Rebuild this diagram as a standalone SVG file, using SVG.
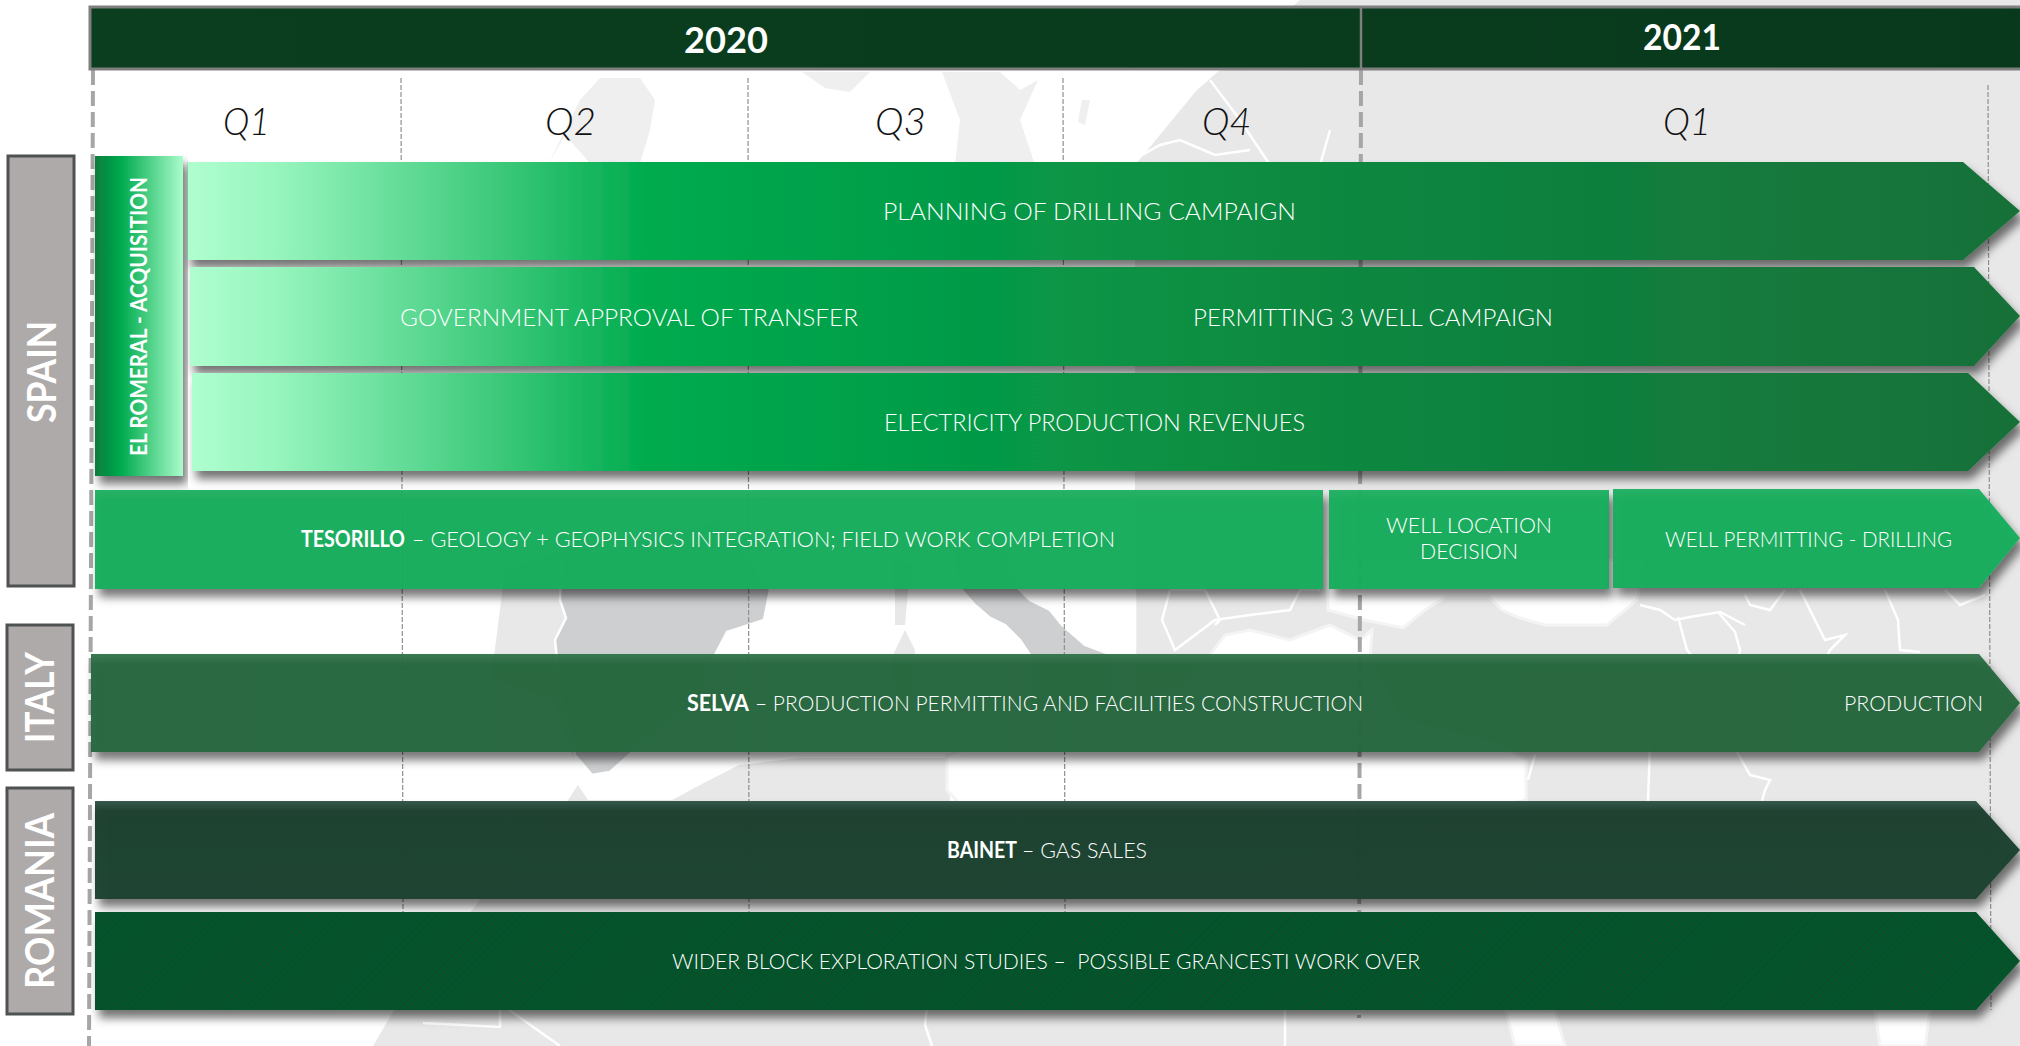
<svg xmlns="http://www.w3.org/2000/svg" width="2020" height="1046" viewBox="0 0 2020 1046">
<style>
text{font-family:"Lato","Open Sans","Liberation Sans",sans-serif;}
.t{fill:#fff;font-size:24px;font-weight:300;}
.s{fill:#fff;font-size:22px;font-weight:300;}
.b{font-weight:700;}
.q{fill:#111;font-size:38px;font-style:italic;font-weight:300;}
.y{fill:#fff;font-size:37px;font-weight:700;}
.c{fill:#fff;font-size:40px;font-weight:700;}
.side{fill:#aeaaa9;stroke:#4f5252;stroke-width:3;}
.thin{stroke:#8f8f8f;stroke-width:1.2;stroke-dasharray:5 2;fill:none;}
.thick{stroke:#a6a6a6;stroke-width:4;stroke-dasharray:15 6;fill:none;}
.land{fill:#e8e8e8;}
.faint{fill:#efefef;}
.dark{fill:#cdcfd1;stroke:#fff;stroke-width:2.5;}
.ln{fill:none;stroke:#fff;stroke-width:2.5;}
.sea{fill:#fff;stroke:#f4f4f4;stroke-width:3;}
.bar{filter:url(#sh);}
</style>
<defs>
<filter id="sh" x="-5%" y="-20%" width="110%" height="160%"><feDropShadow dx="4" dy="8" stdDeviation="5" flood-color="#000" flood-opacity=".55"/></filter>
<linearGradient id="gr" gradientUnits="userSpaceOnUse" x1="187" y1="0" x2="2020" y2="0">
<stop offset="0" stop-color="#b0fed0"/><stop offset=".05" stop-color="#96f5bd"/><stop offset=".25" stop-color="#00ab4e"/><stop offset=".6" stop-color="#0b8a41"/><stop offset="1" stop-color="#187039"/>
</linearGradient>
<linearGradient id="er" x1="0" y1="0" x2="1" y2="0">
<stop offset="0" stop-color="#0a7c3c"/><stop offset=".3" stop-color="#00ab4e"/><stop offset="1" stop-color="#aafccb"/>
</linearGradient>
<linearGradient id="g1" x1="0" y1="0" x2="0" y2="1"><stop offset="0" stop-color="#20b063"/><stop offset=".08" stop-color="#19ad5d"/><stop offset="1" stop-color="#19ad5d"/></linearGradient>
<linearGradient id="g2" x1="0" y1="0" x2="0" y2="1"><stop offset="0" stop-color="#36754c"/><stop offset=".1" stop-color="#25683f"/><stop offset="1" stop-color="#25683f"/></linearGradient>
<linearGradient id="g3" x1="0" y1="0" x2="0" y2="1"><stop offset="0" stop-color="#33564a"/><stop offset=".1" stop-color="#1e4130"/><stop offset="1" stop-color="#1f4331"/></linearGradient>
<pattern id="hatch" width="5" height="5" patternUnits="userSpaceOnUse" patternTransform="rotate(-45)">
<rect width="5" height="5" fill="#01552a"/><rect width="5" height="1.3" fill="#12492b"/>
</pattern>
<linearGradient id="hd" x1="0" y1="0" x2="1" y2="0"><stop offset="0" stop-color="#0b3e1f"/><stop offset="1" stop-color="#08391c"/></linearGradient>
</defs>
<rect width="2020" height="1046" fill="#fff"/>
<g id="map">
<path class="land" d="M1135 1046V165L1197 90 1300 0H2020V1046Z"/>
<path class="land" d="M373 1046L400 1000 480 900 568 800 578 785 588 800H672L700 785 739 765 800 758H947L950 800 1000 880H1135V1046Z"/>
<path class="land" d="M505 570L600 540 720 520 770 590 764 620 727 632 715 655 700 700 640 745 600 772 572 755 555 700 491 680Z"/>
<path class="dark" d="M561 560L720 520 770 590 764 620 727 632 715 655 700 700 640 745 610 772 592 775 575 755 561 700 555 640 566 618 560 600Z"/>
<path class="dark" d="M960 588L975 605 990 618 1005 625 1020 640 1030 655 1030 710 1112 710 1112 655 1085 645 1062 625 1050 610 1030 600 1018 588 1000 540 950 540Z"/>
<path class="land" d="M895 560L912 565 908 590 905 625 895 625Z"/>
<path class="land" d="M893 655L905 630 915 650 912 700 895 700Z"/>
<path class="faint" d="M600 78L620 78 640 78 655 100 650 130 640 163 590 163 565 135 549 163 580 100Z"/>
<path class="faint" d="M942 72L1000 72 1020 90 1038 80 1020 120 1035 165H955L960 120Z"/>
<path class="faint" d="M802 72H870L862 80 850 92 825 88Z"/>
<path class="faint" d="M1082 100L1090 100 1085 125 1078 122Z"/>
<path class="sea" d="M1210 655L1225 635 1250 630 1290 640 1330 625 1360 640 1372 630 1370 660 1400 720 1500 745 1526 760 1526 800 1300 860 1150 880 1000 850 947 790 947 755 1135 700 1180 690Z"/>
<path class="sea" d="M1328 560V610L1365 620 1403 628 1425 610 1446 597 1489 597 1502 610 1520 618 1545 625 1607 625 1637 600 1645 560Z"/>
<path fill="#fff" d="M1062 570L1135 570 1135 655 1112 655 1085 645 1062 625 1050 610 1062 600Z"/>
<path class="sea" d="M1506 1011L1555 1011 1565 1046H1515Z"/>
<path class="sea" d="M1875 1011L1930 1011 1925 1046H1880Z"/>
<path class="ln" d="M1640 605L1660 610 1675 620 1690 617 1720 612 1745 625"/>
<path class="ln" d="M1678 617L1687 650 1695 660M1718 612L1735 632 1740 650 1738 660"/>
<path class="ln" d="M1745 595L1750 605 1770 610 1785 590M1800 590L1815 620 1825 640 1845 635 1830 650 1825 660"/>
<path class="ln" d="M1885 590L1898 620 1900 650 1920 652M1945 590L1960 605 1985 595"/>
<path class="ln" d="M1650 745L1648 801M1733 745L1750 775 1770 780 1765 790 1762 801M1535 755L1528 780"/>
<path class="ln" d="M505 1007L560 1046M423 1023L500 1027 500 1007M927 1007L925 1025 932 1046M1285 1007V1046"/>
<path class="ln" d="M1170 590L1162 620 1175 650 1215 620 1250 615 1290 610 1300 590 1320 590M1170 590L1205 590 1220 620 1215 625M1135 590V655"/>
<path class="ln" d="M1133 160L1160 145 1180 140 1215 155 1250 150M1210 80L1240 120 1270 165M1330 130L1320 165"/>
</g>
<g id="connectors">
<path class="thin" d="M401 78L403 912M748 78L749 912M1063 78L1065 912M1988 85L1991 1010"/>
<path class="thick" d="M93 70L89 1046M1361 70L1359 1018"/>
</g>
<g id="header">
<rect x="90" y="7" width="1940" height="62" fill="url(#hd)" stroke="#7f7f7f" stroke-width="3"/>
<path d="M1361 7V69" stroke="#7f7f7f" stroke-width="2.5"/>
<text class="y" x="684" y="53" textLength="84" lengthAdjust="spacingAndGlyphs">2020</text>
<text class="y" x="1643" y="50" textLength="78" lengthAdjust="spacingAndGlyphs">2021</text>
</g>
<g id="quarters">
<text class="q" x="223" y="135" textLength="47" lengthAdjust="spacingAndGlyphs">Q1</text>
<text class="q" x="545" y="135" textLength="51" lengthAdjust="spacingAndGlyphs">Q2</text>
<text class="q" x="875" y="135" textLength="51" lengthAdjust="spacingAndGlyphs">Q3</text>
<text class="q" x="1202" y="135" textLength="49" lengthAdjust="spacingAndGlyphs">Q4</text>
<text class="q" x="1663" y="135" textLength="48" lengthAdjust="spacingAndGlyphs">Q1</text>
</g>
<g id="spain"><rect class="side" x="8" y="156" width="66" height="430"/>
<text class="c" transform="translate(56 423) rotate(-90)" textLength="102" lengthAdjust="spacingAndGlyphs">SPAIN</text></g>
<g id="italy"><rect class="side" x="7" y="625" width="66" height="145"/>
<text class="c" transform="translate(54 743) rotate(-90)" textLength="91" lengthAdjust="spacingAndGlyphs">ITALY</text></g>
<g id="romania"><rect class="side" x="7" y="788" width="66" height="226"/>
<text class="c" transform="translate(54 989) rotate(-90)" textLength="176" lengthAdjust="spacingAndGlyphs">ROMANIA</text></g>
<g id="planning"><path class="bar" fill="url(#gr)" d="M187 162H1963L2020 211 1963 260H187Z"/>
<text class="t" x="883" y="220" textLength="413" lengthAdjust="spacingAndGlyphs">PLANNING OF DRILLING CAMPAIGN</text></g>
<g id="permitting"><path class="bar" fill="url(#gr)" d="M190 267H1974L2020 316 1974 366H190Z"/>
<text class="t" x="400" y="326" textLength="458" lengthAdjust="spacingAndGlyphs">GOVERNMENT APPROVAL OF TRANSFER</text>
<text class="t" x="1193" y="326" textLength="360" lengthAdjust="spacingAndGlyphs">PERMITTING 3 WELL CAMPAIGN</text></g>
<g id="electricity"><path class="bar" fill="url(#gr)" d="M192 373H1968L2020 422 1968 471H192Z"/>
<text class="t" x="884" y="431" textLength="421" lengthAdjust="spacingAndGlyphs">ELECTRICITY PRODUCTION REVENUES</text></g>
<g id="el-romeral"><rect class="bar" x="95" y="156" width="88" height="320" fill="url(#er)"/>
<text fill="#fff" font-size="23" font-weight="700" transform="translate(147 456) rotate(-90)" textLength="279" lengthAdjust="spacingAndGlyphs">EL ROMERAL - ACQUISITION</text></g>
<g id="tesorillo"><rect class="bar" x="95" y="490" width="1228" height="99" fill="url(#g1)" fill-opacity=".97"/>
<text class="s b" x="301" y="547" textLength="104" lengthAdjust="spacingAndGlyphs">TESORILLO</text>
<text class="s" x="412" y="547" textLength="703" lengthAdjust="spacingAndGlyphs">– GEOLOGY + GEOPHYSICS INTEGRATION; FIELD WORK COMPLETION</text></g>
<g id="well-location"><rect class="bar" x="1329" y="490" width="280" height="99" fill="url(#g1)" fill-opacity=".97"/>
<text class="s" x="1386" y="533" textLength="166" lengthAdjust="spacingAndGlyphs">WELL LOCATION</text>
<text class="s" x="1420" y="559" textLength="98" lengthAdjust="spacingAndGlyphs">DECISION</text></g>
<g id="well-permitting"><path class="bar" fill="url(#g1)" fill-opacity=".97" d="M1613 489H1979L2020 538 1979 588H1613Z"/>
<text class="s" x="1665" y="547" textLength="287" lengthAdjust="spacingAndGlyphs">WELL PERMITTING - DRILLING</text></g>
<g id="selva"><path class="bar" fill="url(#g2)" fill-opacity=".97" d="M91 654H1979L2020 703 1979 752H91Z"/>
<text class="s b" x="687" y="711" textLength="62" lengthAdjust="spacingAndGlyphs">SELVA</text>
<text class="s" x="755" y="711" textLength="608" lengthAdjust="spacingAndGlyphs">– PRODUCTION PERMITTING AND FACILITIES CONSTRUCTION</text>
<text class="s" x="1844" y="711" textLength="139" lengthAdjust="spacingAndGlyphs">PRODUCTION</text></g>
<g id="bainet"><path class="bar" fill="url(#g3)" fill-opacity=".98" d="M95 801H1976L2020 850 1976 899H95Z"/>
<text class="s b" x="947" y="858" textLength="70" lengthAdjust="spacingAndGlyphs">BAINET</text>
<text class="s" x="1022" y="858" textLength="125" lengthAdjust="spacingAndGlyphs">– GAS SALES</text></g>
<g id="wider-block"><path class="bar" fill="url(#hatch)" d="M95 912H1976L2020 961 1976 1010H95Z"/>
<text class="s" x="672" y="969" textLength="748" lengthAdjust="spacingAndGlyphs" xml:space="preserve">WIDER BLOCK EXPLORATION STUDIES –  POSSIBLE GRANCESTI WORK OVER</text></g>
</svg>
